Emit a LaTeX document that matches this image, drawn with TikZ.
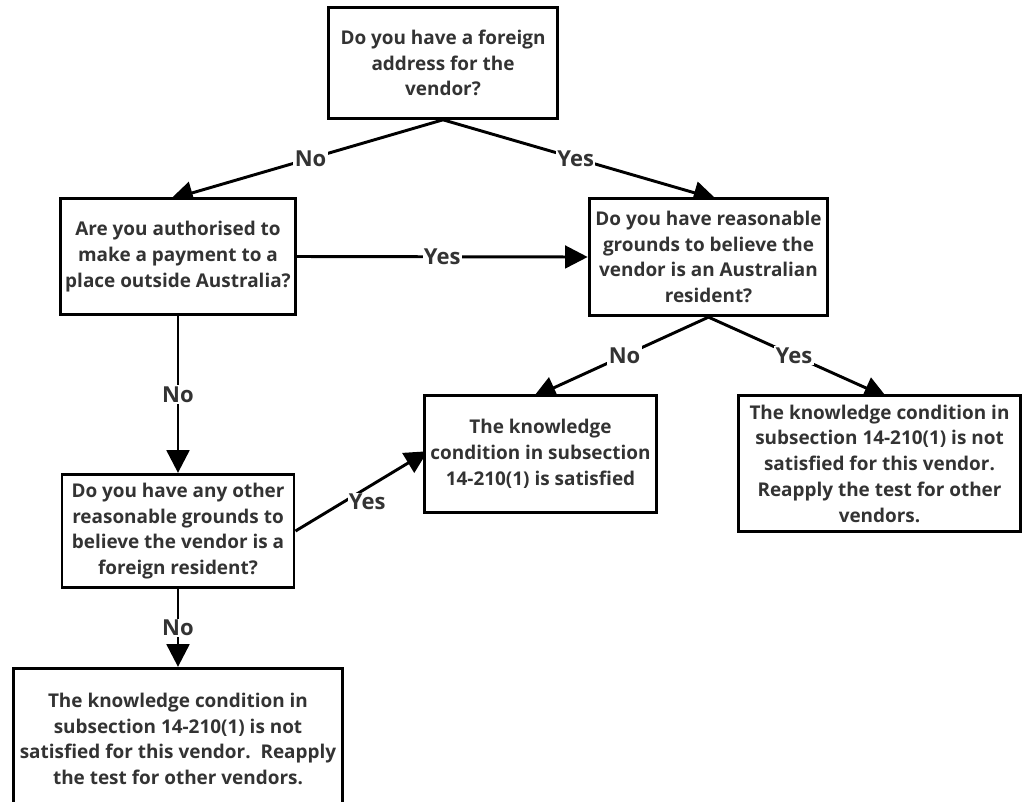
\documentclass[tikz,border=0pt]{standalone}
\usepackage{fontspec}
\setmainfont{Open Sans}
\usetikzlibrary{arrows.meta,backgrounds}
\definecolor{txt}{HTML}{333333}
\begin{document}
\begin{tikzpicture}[x=0.75pt,y=-0.75pt,
  every node/.style={font=\bfseries\fontsize{14.2}{19.3}\selectfont, text=txt},
  box/.style={draw=black, line width=2.2pt, fill=white, align=center, inner sep=2pt},
  conn/.style={draw=black, line width=2.2pt},
  arr/.style={conn, -{Triangle[length=17pt,width=17pt]}},
  lbl/.style={fill=white, inner sep=1pt, font=\bfseries\fontsize{16.5}{19}\selectfont}]
\useasboundingbox (0,0) rectangle (1024,801);
\clip (0,0) rectangle (1024,801);
\node[box, minimum width=172pt, minimum height=83pt] (A) at (443,63)
  {Do you have a foreign\\address for the\\vendor?};
\node[box, minimum width=176pt, minimum height=87pt] (B) at (178,256.5)
  {Are you authorised to\\make a payment to a\\place outside Australia?};
\node[box, minimum width=179pt, minimum height=88pt] (C) at (708.5,257)
  {Do you have reasonable\\grounds to believe the\\vendor is an Australian\\resident?};
\node[box, minimum width=174pt, minimum height=88pt] (D) at (540.5,454)
  {The knowledge\\condition in subsection\\14-210(1) is satisfied};
\node[box, minimum width=212pt, minimum height=102pt] (E) at (879.5,463.5)
  {The knowledge condition in\\subsection 14-210(1) is not\\satisfied for this vendor.\\Reapply the test for other\\vendors.};
\node[box, minimum width=174pt, minimum height=85pt] (F) at (178,531)
  {Do you have any other\\reasonable grounds to\\believe the vendor is a\\foreign resident?};
\node[box, minimum width=247pt, minimum height=106pt] (G) at (178,739)
  {The knowledge condition in\\subsection 14-210(1) is not\\satisfied for this vendor.\ \ Reapply\\the test for other vendors.};
\begin{scope}[on background layer]
\draw[arr, shorten >=-6pt] (A.south) -- node[lbl] {No} (B.north);
\draw[arr, shorten >=-6pt] (A.south) -- node[lbl] {Yes} (C.north);
\draw[arr] (B.east) -- node[lbl] {Yes} (C.west);
\draw[arr] (B.south) -- node[lbl] {No} (F.north);
\draw[arr, shorten >=-6pt] (C.south) -- node[lbl] {No} (D.north);
\draw[arr, shorten >=-6pt] (C.south) -- node[lbl] {Yes} (E.north);
\draw[arr, shorten >=-4pt] (F.east) -- node[lbl, xshift=6pt, yshift=-7pt] {Yes} (D.west);
\draw[arr] (F.south) -- node[lbl] {No} (G.north);
\end{scope}
\end{tikzpicture}
\end{document}
